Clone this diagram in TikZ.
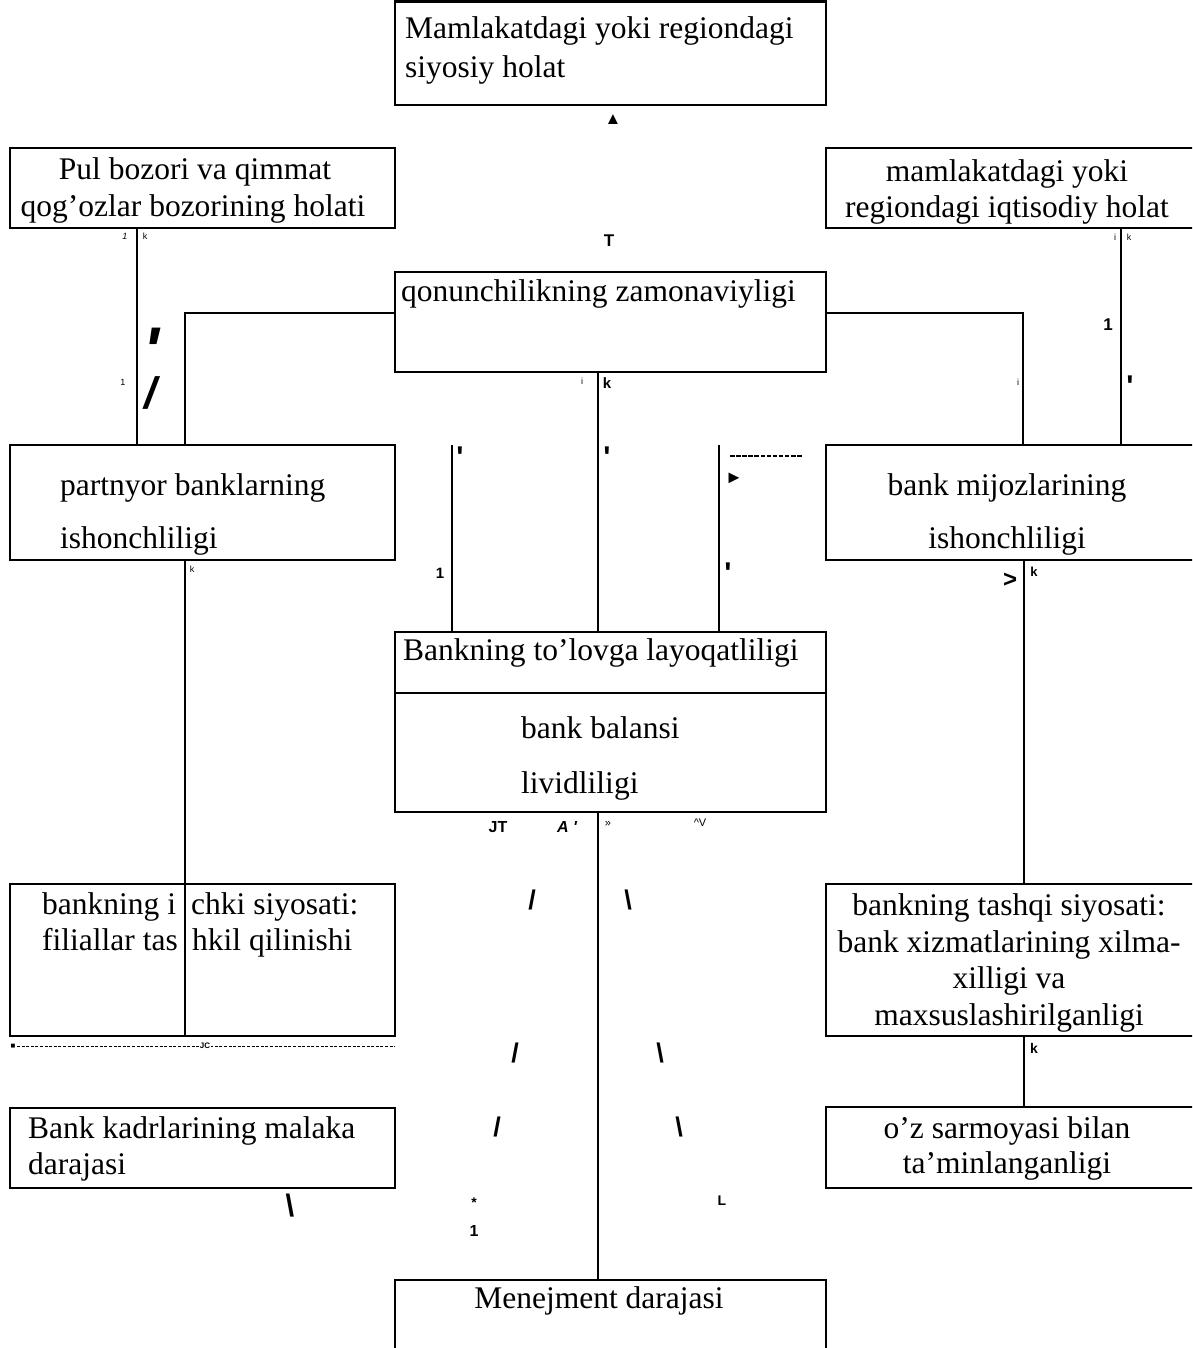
\documentclass[tikz,border=0pt]{standalone}
\usepackage{fontspec}
\usepackage{graphicx}
\setmainfont{Liberation Serif}
\newfontfamily\labfont{Liberation Sans}
\tikzset{
  box/.style={draw, line width=2.4pt, rectangle, inner sep=0pt, outer sep=0pt},
  conn/.style={line width=2.4pt},
  txt/.style={inner sep=0pt, font=\fontsize{31.5}{37}\selectfont},
  lbl/.style={inner sep=0pt, font=\labfont\bfseries\fontsize{#1}{#1}\selectfont},
  lbl/.default=14,
  thindash/.style={line width=1pt, dash pattern=on 3pt off 1.6pt},
}
\begin{document}
\begin{tikzpicture}[x=1pt,y=-1pt]
\fill[white] (0,0) rectangle (1192,1348);
\useasboundingbox (0,0) rectangle (1192,1348);
\begin{scope}
\clip (0,0) rectangle (1192,1348);

% ---------- boxes ----------
\node[box, minimum width=431pt, minimum height=103.5pt] (top) at (610.5,53.25) {};
\node[box, minimum width=385pt, minimum height=80pt] (pul) at (202.5,188) {};
\node[box, minimum width=370pt, minimum height=80pt] (mam) at (1011,188) {};
\node[box, minimum width=431pt, minimum height=100pt] (qon) at (610.5,322) {};
\node[box, minimum width=385pt, minimum height=115pt] (par) at (202.5,502.5) {};
\node[box, minimum width=370pt, minimum height=115pt] (mij) at (1011,502.5) {};
\node[box, minimum width=431pt, minimum height=180pt] (blv) at (610.5,722) {};
\node[box, minimum width=385pt, minimum height=152pt] (ich) at (202.5,960) {};
\node[box, minimum width=370pt, minimum height=152pt] (tas) at (1011,960) {};
\node[box, minimum width=385pt, minimum height=80pt] (kad) at (202.5,1148) {};
\node[box, minimum width=370pt, minimum height=81pt] (sar) at (1011,1147.5) {};
\node[box, minimum width=431pt, minimum height=90pt] (men) at (610.5,1325) {};

% divider inside blv
\draw[conn] (blv.west |- 0,693) -- (blv.east |- 0,693);

% ---------- connectors ----------
\draw[conn] (pul.south -| 137,0) -- (par.north -| 137,0);
\draw[conn] (qon.west |- 0,313) -| (par.north -| 185,0);
\draw[conn] (qon.east |- 0,313) -| (mij.north -| 1023,0);
\draw[conn] (mam.south -| 1121,0) -- (mij.north -| 1121,0);
\draw[conn] (qon.south -| 598,0) -- (blv.north -| 598,0);
\coordinate (fl) at (452,445);
\coordinate (fr) at (719,445);
\draw[conn] (fl) -- (blv.north -| fl);
\draw[conn] (fr) -- (blv.north -| fr);
\draw[conn] (par.south -| 185,0) -- (ich.south -| 185,0);
\draw[conn] (mij.south -| 1024,0) -- (tas.north -| 1024,0);
\draw[conn] (tas.south -| 1024,0) -- (sar.north -| 1024,0);
\draw[conn] (blv.south -| 598,0) -- (men.north -| 598,0);

% dashed line under ich
\coordinate (d1) at (17,1046);
\coordinate (d2) at (395,1046);
\draw[thindash] (d1) -- (d2);
\node[lbl=8, fill=white, inner xsep=1pt] (jc) at (205,1046) {JC};
\node[lbl=8] (sq) at (13,1046) {■};
% dashes near right line
\coordinate (e1) at (730,456);
\coordinate (e2) at (803,456);
\draw[line width=1.5pt, dash pattern=on 4.5pt off 1.6pt] (e1) -- (e2);

% ---------- box texts ----------
\node[txt, anchor=base west] (t1) at (405,39) {Mamlakatdagi yoki regiondagi};
\node[txt, anchor=base west] (t2) at (405,78) {siyosiy holat};

\node[txt, anchor=base] (p1) at (195,180) {Pul bozori va qimmat};
\node[txt, anchor=base] (p2) at (193,217) {qog’ozlar bozorining holati};

\node[txt, anchor=base] (m1) at (1007,182) {mamlakatdagi yoki};
\node[txt, anchor=base] (m2) at (1007,218) {regiondagi iqtisodiy holat};

\node[txt, anchor=base west] (q1) at (401,301) {qonunchilikning zamonaviyligi};

\node[txt, anchor=base west] (pa1) at (60,495) {partnyor banklarning};
\node[txt, anchor=base west] (pa2) at (60,548) {ishonchliligi};

\node[txt, anchor=base] (mi1) at (1007,495) {bank mijozlarining};
\node[txt, anchor=base] (mi2) at (1007,548) {ishonchliligi};

\node[txt, anchor=base west] (b1) at (403,660) {Bankning to’lovga layoqatliligi};
\node[txt, anchor=base west] (b2) at (521,738) {bank balansi};
\node[txt, anchor=base west] (b3) at (521,793) {lividliligi};

\node[txt, anchor=base west] (i1) at (42,914) {bankning i};
\node[txt, anchor=base west] (i2) at (191,914) {chki siyosati:};
\node[txt, anchor=base west] (i3) at (42,950) {filiallar tas};
\node[txt, anchor=base west] (i4) at (192,950) {hkil qilinishi};

\node[txt, anchor=base] (s1) at (1009,915) {bankning tashqi siyosati:};
\node[txt, anchor=base] (s2) at (1009,952) {bank xizmatlarining xilma-};
\node[txt, anchor=base] (s3) at (1009,988) {xilligi va};
\node[txt, anchor=base] (s4) at (1009,1025) {maxsuslashirilganligi};

\node[txt, anchor=base west] (k1) at (28,1138) {Bank kadrlarining malaka};
\node[txt, anchor=base west] (k2) at (28,1174) {darajasi};

\node[txt, anchor=base] (o1) at (1007,1138) {o’z sarmoyasi bilan};
\node[txt, anchor=base] (o2) at (1007,1173) {ta’minlanganligi};

\node[txt, anchor=base] (me1) at (599,1308) {Menejment darajasi};

% ---------- small labels ----------
\node[lbl=17] (tri) at (613,120) {▲};
\node[lbl=17] (lT) at (609,241) {T};

\node[lbl=9] (la1) at (125,236) {\mdseries\itshape 1};
\node[lbl=9] (la2) at (145,236) {\mdseries k};
\node[lbl=66, anchor=base] (la3) at (151,373) {\itshape\textquotesingle};
\node[lbl=9] (la4) at (123,382) {\mdseries 1};
\node[lbl=44] (la5) at (151,393) {\itshape /};

\node[lbl=9] (lb1) at (1115,237) {\mdseries i};
\node[lbl=9] (lb2) at (1129,237) {\mdseries k};
\node[lbl=17] (lb3) at (1108,325) {1};
\node[lbl=30, anchor=north] (lb4) at (1130,376) {\textquotesingle};
\node[lbl=9] (lb5) at (1018,382) {\mdseries i};

\node[lbl=9] (lc1) at (582,381) {\mdseries i};
\node[lbl=15] (lc2) at (607,383) {k};

\node[lbl=30, anchor=north] (ld1) at (460,447) {\textquotesingle};
\node[lbl=30, anchor=north] (ld2) at (607,447) {\textquotesingle};
\node[lbl=18] (ld3) at (734,478) {►};
\node[lbl=15] (ld4) at (440,573) {1};
\node[lbl=30, anchor=north] (ld5) at (728,563) {\textquotesingle};

\node[lbl=9] (le1) at (192,569) {\mdseries k};
\node[lbl=24] (le2) at (1010,580) {>};
\node[lbl=13] (le3) at (1034,572) {k};
\node[lbl=14] (le4) at (1034,1048) {k};

\node[lbl=16] (lf1) at (498,827) {JT};
\node[lbl=16] (lf2) at (567,827) {\itshape A \textquotesingle};
\node[lbl=11] (lf3) at (608,824) {\mdseries »};
\node[lbl=11] (lf4) at (700,823) {\mdseries \^{}V};

\node[lbl=27] (lg1) at (532,900) {/};
\node[lbl=27] (lg2) at (628,900) {\textbackslash};
\node[lbl=27] (lg3) at (515,1053) {/};
\node[lbl=27] (lg4) at (660,1053) {\textbackslash};
\node[lbl=27] (lg5) at (497,1127) {/};
\node[lbl=27] (lg6) at (679,1127) {\textbackslash};
\node[lbl=14] (lg7) at (474,1203) {*};
\node[lbl=16] (lg8) at (474,1231) {1};
\node[lbl=14] (lg9) at (722,1201) {L};
\node[lbl=31] (lg10) at (290,1206) {\textbackslash};
\end{scope}
\end{tikzpicture}
\end{document}
